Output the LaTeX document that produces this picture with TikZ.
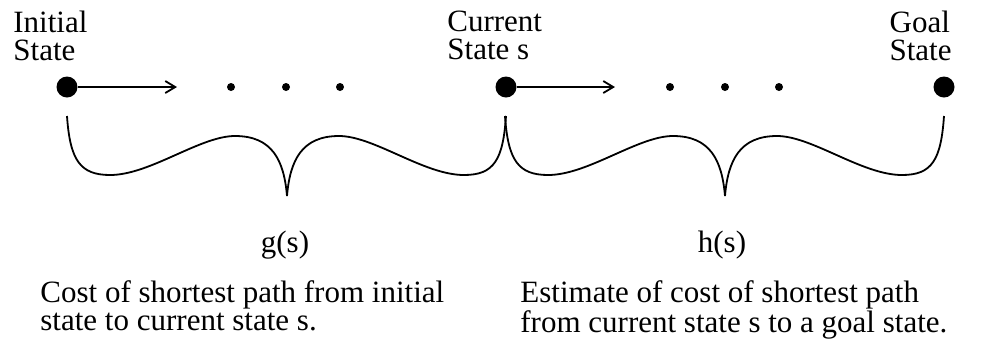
\documentclass[tikz,border=0pt]{standalone}
\usepackage{fontspec}
\setmainfont{Liberation Serif}
\usetikzlibrary{arrows.meta}

\tikzset{
  bigdot/.style={circle, fill=black, inner sep=0pt, minimum size=10.5pt},
  smalldot/.style={circle, fill=black, inner sep=0pt, minimum size=4pt},
  txt/.style={inner sep=0pt, align=left, font=\fontsize{15.5}{14}\selectfont},
  arr/.style={black, line width=0.9pt, -{Straight Barb[length=5pt, width=6pt]}},
}

\begin{document}
\begin{tikzpicture}[x=0.5pt, y=-0.5pt]
  \useasboundingbox (0,0) rectangle (987,339);
  % states
  \node[bigdot] (init) at (67,87) {};
  \node[bigdot] (cur) at (506,87) {};
  \node[bigdot] (goal) at (944,87) {};
  \foreach \i/\px in {1/231, 2/286, 3/340, 4/670, 5/725, 6/779}
    \node[smalldot] (d\i) at (\px,87) {};
  \coordinate (a1) at (177,87);
  \coordinate (a2) at (615,87);
  \draw[arr] (init) -- (a1);
  \draw[arr] (cur) -- (a2);
  \node[txt, anchor=north west] (initlbl) at (13,11) {Initial\\State};
  \node[txt, anchor=north west] (curlbl) at (447,11) {Current\\State s};
  \node[txt, anchor=north east] (goallbl) at (952,11) {Goal\\State};
  % the two braces
  \foreach \bx in {67,505}
    \draw[black, line width=0.9pt, shift={(\bx,0)}]
      (0,116) .. controls (3,160) and (13,175) .. (43,175)
      .. controls (83,175) and (133,136) .. (168,136)
      .. controls (205,136) and (217,160) .. (220,196)
      .. controls (223,160) and (235,136) .. (272,136)
      .. controls (307,136) and (357,175) .. (397,175)
      .. controls (427,175) and (436,160) .. (439,116);
  \node[txt, anchor=base] (gs) at (285,252) {g(s)};
  \node[txt, anchor=base] (hs) at (722,252) {h(s)};
  \node[txt, anchor=north west] (gtext) at (40,280)
    {Cost of shortest path from initial\\state to current state s.};
  \node[txt, anchor=north west] (htext) at (520,280)
    {Estimate of cost of shortest path\\from current state s to a goal state.};
\end{tikzpicture}
\end{document}
